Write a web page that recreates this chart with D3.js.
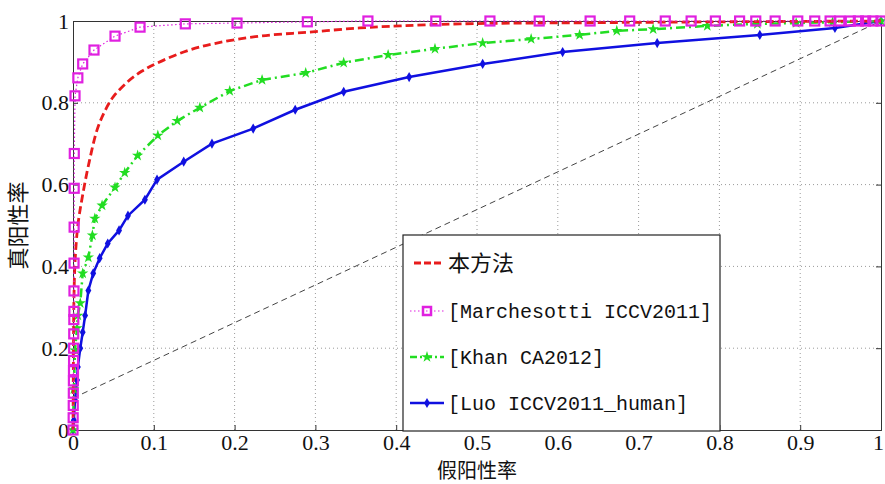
<!DOCTYPE html>
<html>
<head>
<meta charset="utf-8">
<script src="https://cdn.jsdelivr.net/npm/d3@7"></script>
<style>
  html, body { margin: 0; padding: 0; background: #fff; }
  svg { display: block; }
</style>
</head>
<body>
<svg id="chart" width="885" height="484"></svg>
<script>
// ---------------- data ----------------
const xTicks = [0, 0.1, 0.2, 0.3, 0.4, 0.5, 0.6, 0.7, 0.8, 0.9, 1];
const xTickLabels = ["0", "0.1", "0.2", "0.3", "0.4", "0.5", "0.6", "0.7", "0.8", "0.9", "1"];
const yTicks = [0, 0.2, 0.4, 0.6, 0.8, 1];
const yTickLabels = ["0", "0.2", "0.4", "0.6", "0.8", "1"];

const xLabel = "假阳性率";
const yLabel = "真阳性率";
const seriesNames = ["本方法", "[Marchesotti ICCV2011]", "[Khan CA2012]", "[Luo ICCV2011_human]"];

// 本方法 (red dashed)
const oursFPR = [0, 0.0003, 0.0006, 0.001, 0.0025, 0.006, 0.012, 0.02, 0.03, 0.04, 0.05, 0.068, 0.085, 0.104, 0.141, 0.178, 0.231, 0.293, 0.355, 0.405, 0.479, 0.652, 0.8, 1];
const oursTPR = [0, 0.1, 0.2, 0.3, 0.41, 0.5, 0.575, 0.655, 0.735, 0.782, 0.815, 0.852, 0.877, 0.897, 0.927, 0.946, 0.963, 0.973, 0.983, 0.988, 0.993, 0.996, 0.998, 1];

// [Marchesotti ICCV2011] (magenta dotted, squares)
const marchFPR = [0, 0.0002, 0.0003, 0.0004, 0.0005, 0.0006, 0.0007, 0.0008, 0.0009, 0.001, 0.0011, 0.0012, 0.0013, 0.0014, 0.0015, 0.0016, 0.0025, 0.006, 0.012, 0.026, 0.052, 0.083, 0.139, 0.203, 0.29, 0.365, 0.449, 0.516, 0.577, 0.64, 0.689, 0.733, 0.765, 0.795, 0.825, 0.845, 0.869, 0.897, 0.918, 0.937, 0.949, 0.962, 0.972, 0.981, 0.99, 1];
const marchTPR = [0, 0.03, 0.06, 0.09, 0.12, 0.145, 0.17, 0.2, 0.235, 0.27, 0.29, 0.34, 0.408, 0.496, 0.591, 0.676, 0.817, 0.861, 0.895, 0.929, 0.963, 0.985, 0.993, 0.995, 0.998, 1, 1, 1, 1, 1, 1, 1, 1, 1, 1, 1, 1, 1, 1, 1, 1, 1, 1, 1, 1, 1];

// [Khan CA2012] (green dash-dot, stars)
const khanFPR = [0, 0.001, 0.0025, 0.005, 0.006, 0.009, 0.012, 0.019, 0.024, 0.027, 0.036, 0.052, 0.064, 0.08, 0.105, 0.129, 0.157, 0.194, 0.234, 0.288, 0.335, 0.39, 0.448, 0.507, 0.567, 0.627, 0.673, 0.718, 0.785, 0.847, 0.895, 0.94, 1];
const khanTPR = [0, 0.1, 0.195, 0.249, 0.28, 0.31, 0.383, 0.422, 0.476, 0.517, 0.549, 0.593, 0.629, 0.671, 0.72, 0.756, 0.788, 0.829, 0.856, 0.873, 0.898, 0.917, 0.932, 0.946, 0.956, 0.966, 0.976, 0.98, 0.988, 0.993, 0.995, 0.997, 1];

// [Luo ICCV2011_human] (blue solid, dots)
const luoFPR = [0, 0.001, 0.0025, 0.005, 0.006, 0.009, 0.012, 0.015, 0.019, 0.025, 0.033, 0.043, 0.057, 0.068, 0.089, 0.104, 0.137, 0.172, 0.223, 0.275, 0.335, 0.416, 0.507, 0.606, 0.723, 0.85, 0.943, 1];
const luoTPR = [0, 0.024, 0.073, 0.122, 0.154, 0.2, 0.239, 0.28, 0.341, 0.383, 0.42, 0.456, 0.488, 0.524, 0.563, 0.612, 0.656, 0.7, 0.737, 0.783, 0.827, 0.863, 0.895, 0.924, 0.946, 0.966, 0.983, 1];

// reference line (gray dashed)
const refFPR = [0, 1];
const refTPR = [0.078, 1];

// ---------------- drawing ----------------
const svg = d3.select("#chart");
const W = 885, H = 484;
const plot = { left: 73, right: 881, top: 21, bottom: 430 };

const x = d3.scaleLinear().domain([0, 1]).range([plot.left, plot.right]);
const y = d3.scaleLinear().domain([0, 1]).range([plot.bottom, plot.top]);

svg.append("rect").attr("width", W).attr("height", H).attr("fill", "#fff");

// grid
const grid = svg.append("g").attr("class", "grid");
grid.selectAll("line.gx").data(xTicks.slice(1, -1)).enter().append("line")
  .attr("x1", d => x(d)).attr("x2", d => x(d))
  .attr("y1", plot.top).attr("y2", plot.bottom)
  .attr("stroke", "#9a9a9a").attr("stroke-width", 1).attr("stroke-dasharray", "1,3");
grid.selectAll("line.gy").data(yTicks.slice(1, -1)).enter().append("line")
  .attr("y1", d => y(d)).attr("y2", d => y(d))
  .attr("x1", plot.left).attr("x2", plot.right)
  .attr("stroke", "#9a9a9a").attr("stroke-width", 1).attr("stroke-dasharray", "1,3");

// axes
const fontTick = "'Liberation Serif', 'Times New Roman', serif";
const xAxis = d3.axisBottom(x).tickValues(xTicks).tickFormat((d, i) => xTickLabels[i]).tickSize(-5).tickPadding(4);
const yAxis = d3.axisLeft(y).tickValues(yTicks).tickFormat((d, i) => yTickLabels[i]).tickSize(-5).tickPadding(4);
const xTop = d3.axisTop(x).tickValues(xTicks).tickFormat("").tickSize(-5);
const yRight = d3.axisRight(y).tickValues(yTicks).tickFormat("").tickSize(-5);

function styleAxis(g) {
  g.select(".domain").attr("stroke", "#333").attr("stroke-width", 1);
  g.selectAll(".tick line").attr("stroke", "#333");
  g.selectAll(".tick text").attr("fill", "#111").style("font-family", fontTick).style("font-size", "22px");
}
const gx = svg.append("g").attr("transform", `translate(0,${plot.bottom})`).call(xAxis).call(styleAxis);
gx.selectAll(".tick text").filter((d, i) => i === xTicks.length - 1).attr("dx", "-3");
svg.append("g").attr("transform", `translate(${plot.left},0)`).call(yAxis).call(styleAxis);
svg.append("g").attr("transform", `translate(0,${plot.top})`).call(xTop).call(styleAxis);
svg.append("g").attr("transform", `translate(${plot.right},0)`).call(yRight).call(styleAxis);

// reference dashed line
const refLine = d3.line().x(d => x(d[0])).y(d => y(d[1]));
svg.append("path").datum(d3.zip(refFPR, refTPR))
  .attr("d", refLine).attr("fill", "none")
  .attr("stroke", "#444").attr("stroke-width", 1).attr("stroke-dasharray", "6,4");

const lin = d3.line().x(d => x(d[0])).y(d => y(d[1]));
const smooth = d3.line().x(d => x(d[0])).y(d => y(d[1])).curve(d3.curveCatmullRom.alpha(0.5));

const colRed = "#e81c1c", colMag = "#e020e0", colGreen = "#22dd22", colBlue = "#1010e0";

// Luo (blue)
const luo = d3.zip(luoFPR, luoTPR);
svg.append("path").datum(luo).attr("d", lin).attr("fill", "none")
  .attr("stroke", colBlue).attr("stroke-width", 2.5);
svg.append("g").selectAll("path").data(luo).enter().append("path")
  .attr("transform", d => `translate(${x(d[0])},${y(d[1])})`)
  .attr("d", d3.symbol().type(d3.symbolDiamond).size(30))
  .attr("fill", colBlue);

// Khan (green)
const khan = d3.zip(khanFPR, khanTPR);
svg.append("path").datum(khan).attr("d", lin).attr("fill", "none")
  .attr("stroke", colGreen).attr("stroke-width", 2.5).attr("stroke-dasharray", "9,4,2,4");
svg.append("g").selectAll("path").data(khan).enter().append("path")
  .attr("transform", d => `translate(${x(d[0])},${y(d[1])})`)
  .attr("d", d3.symbol().type(d3.symbolStar).size(40))
  .attr("fill", colGreen);

// Ours (red)
const ours = d3.zip(oursFPR, oursTPR);
svg.append("path").datum(ours).attr("d", smooth).attr("fill", "none")
  .attr("stroke", colRed).attr("stroke-width", 2.8).attr("stroke-dasharray", "8,4");

// Marchesotti (magenta)
const march = d3.zip(marchFPR, marchTPR);
svg.append("path").datum(march).attr("d", lin).attr("fill", "none")
  .attr("stroke", colMag).attr("stroke-width", 1.2).attr("stroke-dasharray", "1.5,2.5");
svg.append("g").selectAll("rect").data(march).enter().append("rect")
  .attr("x", d => x(d[0]) - 4.5).attr("y", d => y(d[1]) - 4.5)
  .attr("width", 9).attr("height", 9)
  .attr("fill", "none").attr("stroke", colMag).attr("stroke-width", 2.2);

// axis titles
const fontCJK = "'Noto Sans CJK SC', 'Noto Sans', sans-serif";
svg.append("text").attr("x", x(0.5)).attr("y", 478)
  .attr("text-anchor", "middle").style("font-family", fontCJK).style("font-size", "20px")
  .attr("fill", "#111").text(xLabel);
svg.append("text").attr("transform", `translate(26,${(plot.top + plot.bottom) / 2}) rotate(-90)`)
  .attr("text-anchor", "middle").style("font-family", fontCJK).style("font-size", "22px")
  .attr("fill", "#111").text(yLabel);

// legend
const leg = { x0: 403, y0: 235, x1: 720, y1: 431 };
const lg = svg.append("g");
lg.append("rect").attr("x", leg.x0).attr("y", leg.y0)
  .attr("width", leg.x1 - leg.x0).attr("height", leg.y1 - leg.y0)
  .attr("fill", "#fff").attr("stroke", "#222").attr("stroke-width", 1.2);

const legY = [263, 311, 357, 403];
const lx0 = 410, lx1 = 444, lxm = 427, tx = 448;
const fontMono = "'Liberation Mono', 'DejaVu Sans Mono', monospace";

// entry 1
lg.append("line").attr("x1", lx0 + 4).attr("x2", lx1).attr("y1", legY[0]).attr("y2", legY[0])
  .attr("stroke", colRed).attr("stroke-width", 2.8).attr("stroke-dasharray", "7,3");
// entry 2
lg.append("line").attr("x1", lx0).attr("x2", lx1).attr("y1", legY[1]).attr("y2", legY[1])
  .attr("stroke", colMag).attr("stroke-width", 1.2).attr("stroke-dasharray", "1.5,2.5");
lg.append("rect").attr("x", lxm - 4).attr("y", legY[1] - 4).attr("width", 8).attr("height", 8)
  .attr("fill", "none").attr("stroke", colMag).attr("stroke-width", 2.5);
// entry 3
lg.append("line").attr("x1", lx0).attr("x2", lx1).attr("y1", legY[2]).attr("y2", legY[2])
  .attr("stroke", colGreen).attr("stroke-width", 2.5).attr("stroke-dasharray", "7,3,2,3");
lg.append("path").attr("transform", `translate(${lxm},${legY[2]})`)
  .attr("d", d3.symbol().type(d3.symbolStar).size(40)).attr("fill", colGreen);
// entry 4
lg.append("line").attr("x1", lx0).attr("x2", lx1).attr("y1", legY[3]).attr("y2", legY[3])
  .attr("stroke", colBlue).attr("stroke-width", 2.5);
lg.append("path").attr("transform", `translate(${lxm},${legY[3]})`)
  .attr("d", d3.symbol().type(d3.symbolDiamond).size(30)).attr("fill", colBlue);

lg.selectAll("text.lt").data(seriesNames).enter().append("text")
  .attr("x", tx).attr("y", (d, i) => legY[i])
  .attr("dy", "0.35em")
  .style("font-family", (d, i) => i === 0 ? fontCJK : fontMono)
  .style("font-size", (d, i) => i === 0 ? "22px" : "20px")
  .attr("fill", "#111")
  .text(d => d);
</script>
</body>
</html>
